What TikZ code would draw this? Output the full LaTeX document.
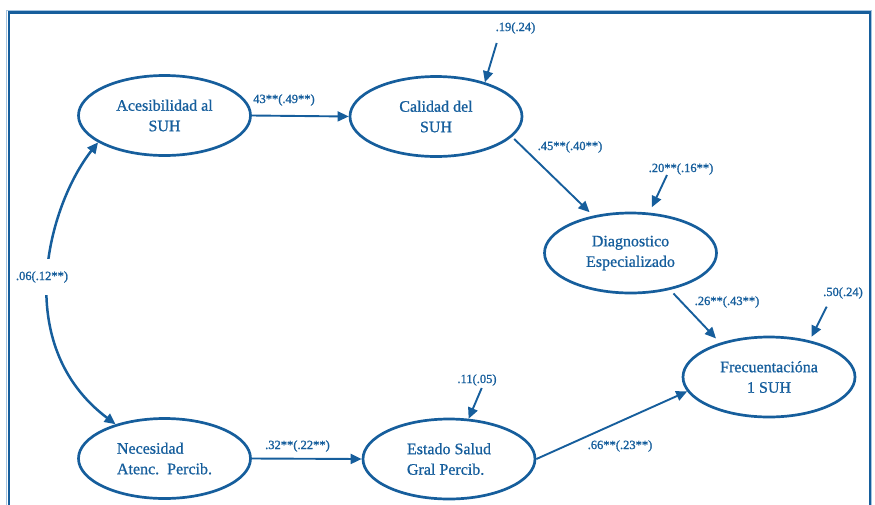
\documentclass[tikz,border=0pt]{standalone}
\usepackage{fontspec}
\setmainfont{Liberation Serif}
\newfontfamily\constructfont{Liberation Serif}[FakeBold=0.9]
\newfontfamily\coeffont{Liberation Serif}[FakeBold=1.2]
\usetikzlibrary{arrows.meta,shapes.geometric}
\definecolor{pathblue}{RGB}{22,94,156}
\definecolor{frameglow}{RGB}{165,196,224}
\begin{document}
\begin{tikzpicture}[x=1pt,y=-1pt,
  construct/.style={ellipse, draw=pathblue, line width=2.7pt,
    minimum width=172pt, minimum height=80pt, inner sep=0pt,
    text=pathblue, font=\constructfont\fontsize{16}{20.5}\selectfont, align=center},
  coef/.style={text=pathblue, font=\coeffont\fontsize{12.5}{14}\selectfont, inner sep=1pt},
  tip/.style={-{Triangle[length=11pt,width=10pt]}},
  link/.style={draw=pathblue, line width=1.9pt, tip},
  covlink/.style={draw=pathblue, line width=2.5pt,
    {Triangle[length=11pt,width=10pt]}-{Triangle[length=11pt,width=10pt]}}
]
\useasboundingbox (0,0) rectangle (875,504);
\clip (0,0) rectangle (875,504);

% outer frame (open at the bottom edge of the page)
\draw[frameglow, line width=1pt] (6.8,540) -- (6.8,10.6) -- (871.4,10.6) -- (871.4,540);
\draw[pathblue, line width=2.2pt] (8.6,540) -- (8.6,12.4) -- (869.6,12.4) -- (869.6,540);

% constructs
\node[construct] (aces) at (164.5,115.5) {Acesibilidad al\\SUH};
\node[construct] (cal)  at (436,116.5)   {Calidad del\\SUH};
\node[construct] (diag) at (630.5,253)   {Diagnostico\\Especializado};
\node[construct] (frec) at (769,377)     {Frecuentacióna\\1 SUH};
\node[construct, align=left] (nec) at (164.5,458.5) {Necesidad\\Atenc.\ \ Percib.};
\node[construct, align=left] (est) at (449,459)     {Estado Salud\\Gral Percib.};

% free ends of the disturbance arrows
\coordinate (ecal)  at (496.7,43);
\coordinate (ediag) at (667,175);
\coordinate (efrec) at (826.7,306.7);
\coordinate (eest)  at (481.7,388);

% structural paths
\draw[link] (aces.east) -- (cal.west);
\draw[link, shorten <=3pt, shorten >=5pt] (cal.-15) -- (diag.135);
\draw[link, shorten <=5pt, shorten >=6pt] (diag.-43) -- (frec.145);
\draw[link] (nec.east) -- (est.west);
\draw[link] (est.east) -- (frec.190);

% disturbances
\draw[link] (ecal) -- (cal.35);
\draw[link, shorten >=6pt] (ediag) -- (diag.65);
\draw[link, shorten >=4pt] (efrec) -- (frec.42);
\draw[link] (eest) -- (est.64);

% covariance between the exogenous constructs
\draw[covlink] (aces.202) .. controls (48.4,205) and (9.7,344.5) .. (nec.145);

% coefficients
\node[coef] (c1) at (284,100)   {43**(.49**)};
\node[coef] (c2) at (515.5,28)  {.19(.24)};
\node[coef] (c3) at (570,147)   {.45**(.40**)};
\node[coef] (c4) at (681,169)   {.20**(.16**)};
\node[coef] (c5) at (727,302)   {.26**(.43**)};
\node[coef] (c6) at (843,293)   {.50(.24)};
\node[coef, fill=white, inner ysep=12pt] (c7) at (42,277) {.06(.12**)};
\node[coef] (c8) at (297.5,446) {.32**(.22**)};
\node[coef] (c9) at (477,380)   {.11(.05)};
\node[coef] (c10) at (620,446)  {.66**(.23**)};
\end{tikzpicture}
\end{document}
